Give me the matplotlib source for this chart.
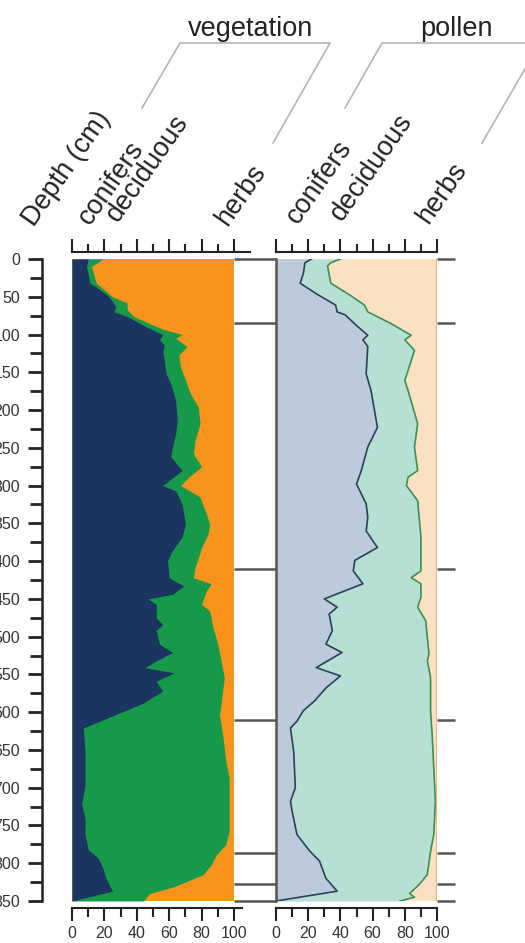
import matplotlib
matplotlib.use("Agg")
import matplotlib.pyplot as plt
from matplotlib.ticker import MultipleLocator
from matplotlib.lines import Line2D

plt.rcParams['font.family'] = ['Liberation Sans', 'DejaVu Sans']

# vegetation reconstruction (cumulative %, depth in cm)
veg_conif_depth = [0, 10, 32, 37, 50, 63, 70, 76, 90, 100, 107, 114, 123, 134, 152, 165, 187,
                   214, 231, 249, 262, 280, 300, 307, 324, 351, 368, 386, 399, 422, 433, 444,
                   450, 457, 475, 484, 492, 510, 521, 532, 541, 548, 559, 572, 588, 621, 652,
                   696, 722, 741, 762, 782, 793, 806, 820, 837, 850]
veg_conif = [10, 9, 11, 15, 23, 27, 26, 34, 46, 56, 54, 57, 56, 57, 58, 61, 64,
             65, 64, 62, 61, 68, 56, 64, 68, 70, 68, 62, 59, 60, 69, 62,
             47, 52, 52, 56, 52, 54, 62, 52, 45, 63, 52, 56, 44, 7, 8,
             8, 6, 8, 8, 10, 16, 19, 21, 25, 0]

veg_decid_depth = [0, 10, 32, 50, 58, 67, 76, 93, 100, 105, 116, 127, 143, 160, 178, 196, 218,
                   240, 258, 275, 289, 300, 315, 338, 351, 364, 382, 408, 422, 430, 439, 457,
                   466, 488, 510, 532, 554, 572, 590, 603, 630, 665, 687, 718, 758, 775, 789,
                   802, 815, 831, 840, 850]
veg_decid_cum = [19, 12, 15, 25, 34, 34, 38, 56, 68, 64, 71, 66, 67, 70, 73, 78, 79,
                 76, 75, 80, 72, 67, 79, 83, 85, 84, 80, 76, 75, 86, 83, 80,
                 85, 87, 90, 92, 94, 93, 92, 91, 93, 95, 97, 97, 97, 95, 89,
                 86, 81, 63, 48, 44]

# pollen percentages (cumulative %)
pol_conif_depth = [0, 5, 19, 32, 46, 61, 70, 74, 90, 101, 107, 116, 152, 174, 223, 249, 280,
                   298, 324, 342, 360, 382, 399, 413, 430, 450, 461, 470, 492, 510, 521, 541,
                   552, 568, 585, 598, 612, 621, 652, 700, 718, 731, 762, 784, 797, 820, 837, 850]
pol_conif = [22, 18, 17, 15, 25, 37, 38, 43, 51, 57, 54, 57, 56, 59, 63, 57, 53,
             50, 56, 57, 56, 63, 49, 48, 54, 30, 38, 33, 35, 31, 41, 25,
             40, 31, 24, 17, 13, 9, 11, 12, 9, 10, 13, 21, 27, 31, 38, 0]

pol_decid_depth = [0, 5, 9, 32, 48, 61, 70, 85, 101, 107, 121, 161, 174, 218, 249, 280, 289,
                   300, 320, 368, 413, 422, 430, 448, 461, 479, 523, 532, 554, 598, 630, 674,
                   718, 762, 784, 815, 828, 840, 845, 850]
pol_decid_cum = [40, 34, 32, 34, 46, 55, 57, 71, 84, 80, 86, 80, 82, 88, 86, 88, 82,
                 81, 88, 90, 90, 84, 90, 90, 88, 93, 95, 94, 96, 96, 97, 98,
                 99, 98, 96, 94, 89, 83, 86, 77]

zone_depths = [0, 85, 411, 610, 786, 828, 850]
depth_max = 850
groups = ['conifers', 'deciduous', 'herbs']

W, H = 525, 943
PX = 72 / 100  # points per pixel
fig = plt.figure(figsize=(W / 100, H / 100), dpi=100)


def box(x0, x1, y0=259, y1=901):
    return [x0 / W, 1 - y1 / H, (x1 - x0) / W, (y1 - y0) / H]


def fpt(x, y):
    return x / W, 1 - y / H


def style_panel(ax, xmax_top, xmax_bot):
    ax.set_xlim(0, 100)
    ax.set_ylim(depth_max, 0)
    ax.spines['right'].set_visible(False)
    ax.spines['top'].set_position(('outward', 7 * PX))
    ax.spines['bottom'].set_position(('outward', 7 * PX))
    ax.spines['top'].set_bounds(0, xmax_top)
    ax.spines['bottom'].set_bounds(0, xmax_bot)
    for s in ['top', 'bottom']:
        ax.spines[s].set_linewidth(1.5)
        ax.spines[s].set_color('#222222')
    ax.xaxis.set_ticks_position('both')
    ax.xaxis.set_major_locator(MultipleLocator(20))
    ax.xaxis.set_minor_locator(MultipleLocator(10))
    ax.tick_params(axis='x', which='major', length=13 * PX, width=1.5, color='#222222',
                   labelsize=11.5, pad=5 * PX, top=True, bottom=True, labeltop=False,
                   labelcolor='#333333')
    ax.tick_params(axis='x', which='minor', length=8.5 * PX, width=1.5, color='#222222',
                   top=True, bottom=True)


# vegetation panel
ax1 = fig.add_axes(box(72, 234))
ax1.axvspan(0, 100, color='#f7941e', lw=0)
ax1.fill_betweenx(veg_decid_depth, 0, veg_decid_cum, color='#17994a', lw=0)
ax1.fill_betweenx(veg_conif_depth, 0, veg_conif, color='#1b3561', lw=0)
style_panel(ax1, 110, 105)
ax1.spines['left'].set_position(('outward', 30 * PX))
ax1.spines['left'].set_bounds(0, depth_max)
ax1.spines['left'].set_linewidth(1.8)
ax1.spines['left'].set_color('#222222')
ax1.yaxis.set_major_locator(MultipleLocator(50))
ax1.yaxis.set_minor_locator(MultipleLocator(25))
ax1.tick_params(axis='y', which='major', length=14 * PX, width=2, color='#222222',
                labelsize=11.5, pad=8 * PX, labelcolor='#333333')
ax1.tick_params(axis='y', which='minor', length=12 * PX, width=2, color='#222222')

# pollen panel
ax2 = fig.add_axes(box(276, 437))
ax2.axvspan(0, 100, color='#f9e1c2', lw=0)
ax2.fill_betweenx(pol_decid_depth, 0, pol_decid_cum, color='#b6e0d4', lw=0)
ax2.plot(pol_decid_cum, pol_decid_depth, color='#3f8f55', lw=1.2)
ax2.fill_betweenx(pol_conif_depth, 0, pol_conif, color='#bccbdc', lw=0)
ax2.plot(pol_conif, pol_conif_depth, color='#2d4057', lw=1.2)
ax2.axvline(100, color='#efb46e', lw=1.5)
style_panel(ax2, 100, 100)
ax2.spines['left'].set_color('#555555')
ax2.spines['left'].set_linewidth(1.8)
ax2.set_yticks([])

# zone boundaries between and right of the panels
for x0, x1 in [(234, 276), (437, 455)]:
    zax = fig.add_axes(box(x0, x1))
    zax.set_xlim(0, 1)
    zax.set_ylim(depth_max, 0)
    zax.hlines(zone_depths, 0, 1, color='#555555', lw=1.8, clip_on=False)
    zax.axis('off')

# column headers
txt = dict(rotation=55, rotation_mode='anchor', ha='left', va='baseline',
           fontsize=19.5, color='#222222')
fig.text(*fpt(34, 228), 'Depth (cm)', **txt)
for (x, y), name in zip([(90, 226), (118, 223), (227, 227)], groups):
    fig.text(*fpt(x, y), name, **txt)
for (x, y), name in zip([(298, 225), (342, 222), (428, 225)], groups):
    fig.text(*fpt(x, y), name, **txt)

# group brackets
for pts, label, cx in [([(142, 108), (180, 43), (330, 43), (273, 143)], 'vegetation', 251),
                       ([(345, 108), (382, 43), (540, 43), (482, 143)], 'pollen', 456)]:
    xs = [fpt(x, y)[0] for x, y in pts]
    ys = [fpt(x, y)[1] for x, y in pts]
    fig.add_artist(Line2D(xs, ys, color='#b4b4b4', lw=1.2, transform=fig.transFigure))
    fig.text(*fpt(cx, 36), label, ha='center', va='baseline', fontsize=19.5, color='#222222')

fig.savefig('out.png', dpi=100)
